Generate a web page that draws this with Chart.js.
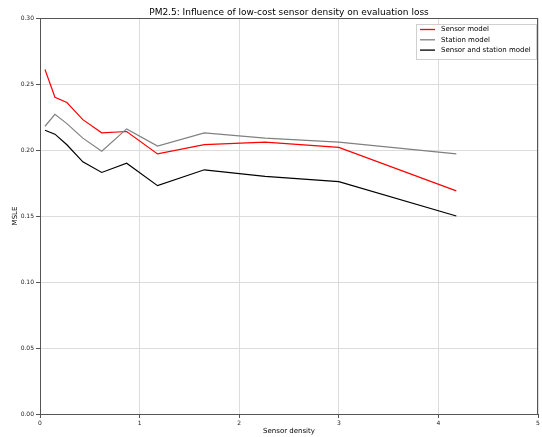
<!DOCTYPE html>
<html>
<head>
<meta charset="utf-8">
<script src="https://cdn.jsdelivr.net/npm/chart.js@4.4.0/dist/chart.umd.min.js"></script>
<style>
  html, body { margin: 0; padding: 0; background: #fff; }
  #wrap { width: 542px; height: 437px; }
</style>
</head>
<body>
<div id="wrap"><canvas id="lossChart" width="542" height="437"></canvas></div>
<script>
const density = [0.05, 0.15, 0.27, 0.43, 0.62, 0.87, 1.18, 1.65, 2.26, 3.0, 4.18];
const sensorModel = [0.261, 0.240, 0.236, 0.223, 0.213, 0.214, 0.197, 0.204, 0.206, 0.202, 0.169];
const stationModel = [0.218, 0.227, 0.220, 0.209, 0.199, 0.216, 0.203, 0.213, 0.209, 0.206, 0.197];
const sensorStationModel = [0.215, 0.212, 0.204, 0.191, 0.183, 0.190, 0.173, 0.185, 0.180, 0.176, 0.150];
const seriesNames = ["Sensor model", "Station model", "Sensor and station model"];
const seriesColors = ["#ff0000", "#808080", "#000000"];

const font = "'DejaVu Sans', sans-serif";

function toPoints(vals) {
    return density.map((x, i) => ({x: x, y: vals[i]}));
}

// title, frame and legend drawn by hand so they sit like the original
const decor = {
    id: 'decor',
    afterDraw(chart) {
        const {ctx, chartArea: a} = chart;
        ctx.save();
        ctx.strokeStyle = "#555";
        ctx.lineWidth = 1;
        ctx.strokeRect(Math.round(a.left) + 0.5, Math.round(a.top) + 0.5, Math.round(a.right - a.left) - 1, Math.round(a.bottom - a.top));

        ctx.fillStyle = "#000";
        ctx.font = "9px " + font;
        ctx.textAlign = "center";
        ctx.textBaseline = "alphabetic";
        ctx.fillText("PM2.5: Influence of low-cost sensor density on evaluation loss", (a.left + a.right) / 2, 15);

        // legend
        const bx = 416, by = 24, bw = 120, bh = 35;
        ctx.fillStyle = "rgba(255,255,255,0.85)";
        ctx.fillRect(bx, by, bw, bh);
        ctx.strokeStyle = "#d0d0d0";
        ctx.strokeRect(bx + 0.5, by + 0.5, bw, bh);
        ctx.font = "7px " + font;
        ctx.textAlign = "left";
        ctx.textBaseline = "middle";
        chart.data.datasets.forEach((ds, i) => {
            const y = by + 5.5 + i * 10.3;
            ctx.strokeStyle = ds.borderColor;
            ctx.lineWidth = 1.3;
            ctx.beginPath();
            ctx.moveTo(bx + 4, y);
            ctx.lineTo(bx + 19, y);
            ctx.stroke();
            ctx.fillStyle = "#000";
            ctx.fillText(ds.label, bx + 25, y);
        });
        ctx.restore();
    }
};

new Chart(document.getElementById("lossChart"), {
    type: 'line',
    data: {
        datasets: [
            {label: seriesNames[0], data: toPoints(sensorModel), borderColor: seriesColors[0], order: 3},
            {label: seriesNames[1], data: toPoints(stationModel), borderColor: seriesColors[1], order: 2},
            {label: seriesNames[2], data: toPoints(sensorStationModel), borderColor: seriesColors[2], order: 1}
        ]
    },
    options: {
        responsive: false,
        animation: false,
        elements: {
            point: {radius: 0},
            line: {borderWidth: 1.2, tension: 0}
        },
        layout: {padding: {top: 18, right: 4, left: 0, bottom: 0}},
        plugins: {
            legend: {display: false},
            title: {display: false},
            tooltip: {enabled: false}
        },
        scales: {
            x: {
                type: 'linear',
                min: 0,
                max: 5,
                ticks: {stepSize: 1, font: {family: font, size: 6}, color: "#222", padding: 2, maxRotation: 0},
                grid: {color: "#dcdcdc", tickColor: "#555", tickLength: 4},
                border: {display: false},
                title: {display: true, text: "Sensor density", font: {family: font, size: 7}, color: "#000", padding: {top: 1, bottom: 2}},
                afterFit(s) { s.height = 23; }
            },
            y: {
                min: 0,
                max: 0.30,
                ticks: {stepSize: 0.05, font: {family: font, size: 6}, color: "#222", padding: 2,
                    callback: v => v.toFixed(2)},
                grid: {color: "#dcdcdc", tickColor: "#555", tickLength: 4},
                border: {display: false},
                title: {display: true, text: "MSLE", font: {family: font, size: 7}, color: "#000", padding: {top: 11, bottom: 0}},
                afterFit(s) { s.width = 40; }
            }
        }
    },
    plugins: [decor]
});
</script>
</body>
</html>
